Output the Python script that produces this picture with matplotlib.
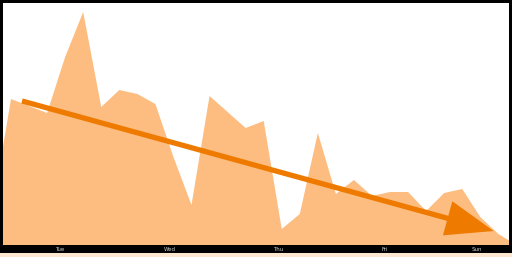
import matplotlib
matplotlib.use("Agg")
import matplotlib.pyplot as plt
from matplotlib.patches import Rectangle

# 4-hourly samples (index = sample number)
values = [38, 146, 139, 132, 188, 233, 138, 155, 151, 141, 88, 40, 149, 133,
          117, 124, 16, 31, 112, 51, 65, 49, 53, 53, 34, 52, 56, 28, 11, 0]
day_labels = ["Tue", "Wed", "Thu", "Fri", "Sun"]
day_ticks = [3.71, 9.81, 15.79, 21.72, 26.82]

# trend arrow from start to end (index, value)
trend_start = (1.61, 144)
trend_end = (27.74, 14)

W, H = 512, 257
fig = plt.figure(figsize=(W / 100, H / 100), dpi=100, facecolor="black")

# light strip at the very bottom
fig.patches.append(Rectangle((0, 0), 1, 4 / H, transform=fig.transFigure,
                             facecolor="#fde7d0", edgecolor="none"))

ax = fig.add_axes([3 / W, (H - 245) / H, (509 - 3) / W, (245 - 3) / H])
ax.set_facecolor("white")

x = list(range(len(values)))
ax.fill_between(x, values, 0, color="#fdbd80", linewidth=0)

ax.annotate("", xy=trend_end, xytext=trend_start,
            arrowprops=dict(arrowstyle="-|>,head_length=27,head_width=10",
                            mutation_scale=1, lw=3.8, color="#ee7b00",
                            shrinkA=0, shrinkB=0,
                            joinstyle="miter", capstyle="butt"))

ax.set_xlim(0.557, 28.59)
ax.set_ylim(0, 242)
ax.set_yticks([])
ax.set_xticks(day_ticks, day_labels)
ax.tick_params(axis="x", length=0, pad=1.2, labelsize=4, labelcolor="#cfcfcf")
for s in ax.spines.values():
    s.set_visible(False)

fig.savefig("out.png", dpi=100, facecolor=fig.get_facecolor())
